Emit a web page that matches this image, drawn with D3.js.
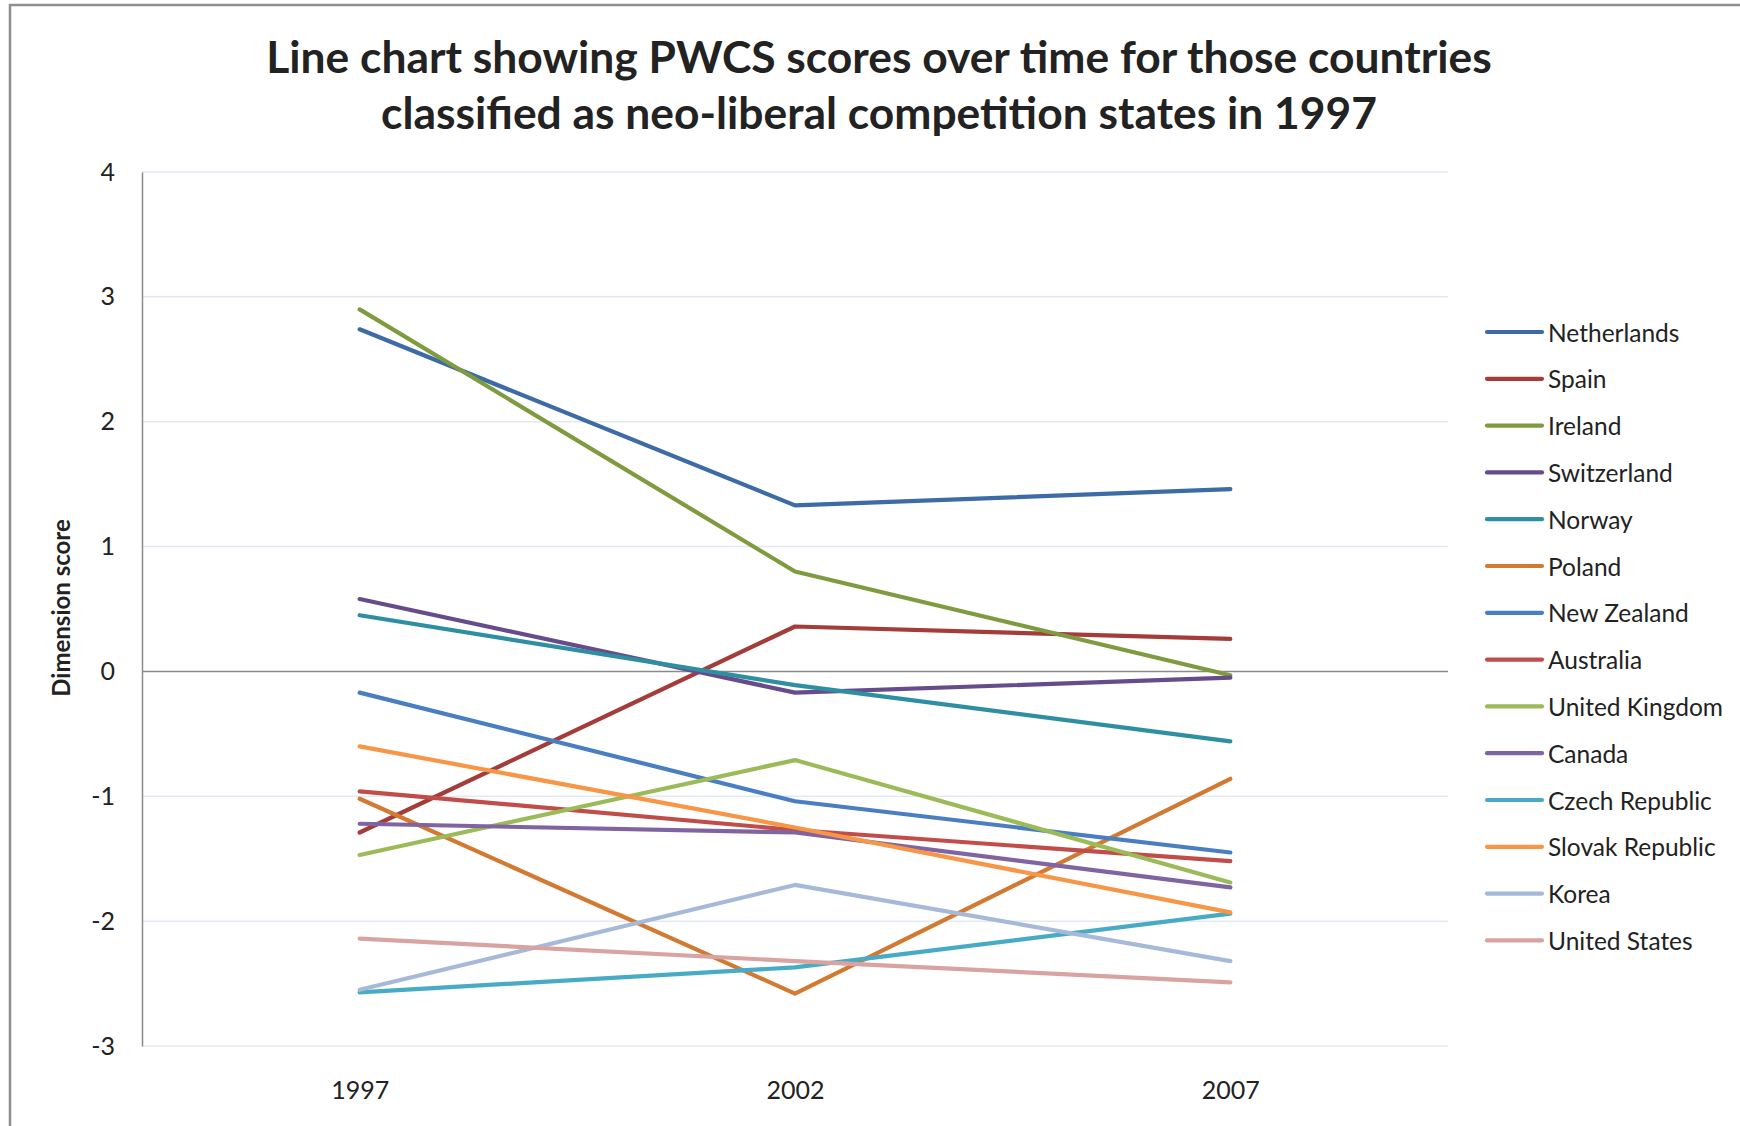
<!DOCTYPE html>
<html>
    <head>
        <meta charset="utf-8">
        <title>PWCS scores</title>
        <script src="https://d3js.org/d3.v7.min.js"></script>
        <style>
            body { margin: 0; background: #fff; }
            text { font-family: Lato, "Open Sans", sans-serif; fill: #222; }
        </style>
    </head>
    <body>
        <script>

        // Years on the x axis
        const years = ["1997", "2002", "2007"];

        // Countries, in legend order
        const countries = ["Netherlands", "Spain", "Ireland", "Switzerland", "Norway", "Poland",
            "New Zealand", "Australia", "United Kingdom", "Canada", "Czech Republic",
            "Slovak Republic", "Korea", "United States"];

        // Scores per country (1997, 2002, 2007)
        const netherlands = [2.74, 1.33, 1.46];
        const spain = [-1.29, 0.36, 0.26];
        const ireland = [2.90, 0.80, -0.03];
        const switzerland = [0.58, -0.17, -0.05];
        const norway = [0.45, -0.11, -0.56];
        const poland = [-1.02, -2.58, -0.86];
        const newZealand = [-0.17, -1.04, -1.45];
        const australia = [-0.96, -1.27, -1.52];
        const unitedKingdom = [-1.47, -0.71, -1.69];
        const canada = [-1.22, -1.29, -1.73];
        const czechRepublic = [-2.57, -2.37, -1.94];
        const slovakRepublic = [-0.60, -1.25, -1.93];
        const korea = [-2.55, -1.71, -2.32];
        const unitedStates = [-2.14, -2.32, -2.49];

        const values = [netherlands, spain, ireland, switzerland, norway, poland, newZealand,
            australia, unitedKingdom, canada, czechRepublic, slovakRepublic, korea, unitedStates];

        const colors = ["#3d6ba5", "#a43c39", "#7f9b3f", "#664c8a", "#2f8fa2", "#d27a31",
            "#4a7ec3", "#c14d4a", "#9bbb59", "#8064a2", "#48abc6", "#f79646", "#a7b9d8", "#d9a3a2"];

        const yTicks = [-3, -2, -1, 0, 1, 2, 3, 4];

        const svgWidth = 1740;
        const svgHeight = 1126;
        const plot = { left: 142, right: 1448, top: 172, bottom: 1046 };

        const svg = d3.select("body").append("svg")
            .attr("width", svgWidth)
            .attr("height", svgHeight);

        // outer frame
        svg.append("rect")
            .attr("x", 10).attr("y", 5)
            .attr("width", svgWidth + 20).attr("height", svgHeight + 20)
            .attr("fill", "none")
            .attr("stroke", "#909090")
            .attr("stroke-width", 2.5);

        const x = d3.scalePoint()
            .domain(years)
            .range([plot.left, plot.right])
            .padding(0.5);

        const y = d3.scaleLinear()
            .domain([-3, 4])
            .range([plot.bottom, plot.top]);

        // gridlines
        svg.append("g")
            .selectAll("line")
            .data(yTicks)
            .join("line")
            .attr("x1", plot.left).attr("x2", plot.right)
            .attr("y1", d => y(d)).attr("y2", d => y(d))
            .attr("stroke", d => d === 0 ? "#8a8a8a" : "#e3e9f3")
            .attr("stroke-width", 1.5);

        // y axis
        const yAxis = d3.axisLeft(y)
            .tickValues(yTicks)
            .tickFormat(d => String(d))
            .tickSize(0)
            .tickPadding(27);
        const gy = svg.append("g")
            .attr("transform", `translate(${plot.left},0)`)
            .call(yAxis);
        gy.select(".domain").attr("stroke", "#8a8a8a").attr("stroke-width", 1.5);
        gy.selectAll("text").attr("font-size", 25).attr("fill", "#222")
            .style("font-family", "Lato, sans-serif");

        // x axis labels
        const xAxis = d3.axisBottom(x).tickSize(0).tickPadding(35);
        const gx = svg.append("g")
            .attr("transform", `translate(0,${plot.bottom})`)
            .call(xAxis);
        gx.select(".domain").remove();
        gx.selectAll("text").attr("font-size", 25).attr("fill", "#222")
            .style("font-family", "Lato, sans-serif");

        // lines
        const line = d3.line()
            .x((d, i) => x(years[i]))
            .y(d => y(d));

        svg.append("g")
            .selectAll("path")
            .data(values)
            .join("path")
            .attr("d", line)
            .attr("fill", "none")
            .attr("stroke", (d, i) => colors[i])
            .attr("stroke-width", 4.2)
            .attr("stroke-linecap", "round")
            .attr("stroke-linejoin", "round");

        // title
        const titleLines = ["Line chart showing PWCS scores over time for those countries",
            "classified as neo-liberal competition states in 1997"];
        const title = svg.append("g");
        const t1 = title.append("text")
            .attr("x", 879).attr("y", 55)
            .attr("text-anchor", "middle")
            .attr("dominant-baseline", "central")
            .attr("font-weight", "bold")
            .attr("font-size", 40)
            .text(titleLines[0]);
        const fitSize = 40 * 1226 / t1.node().getComputedTextLength();
        t1.attr("font-size", fitSize);
        title.append("text")
            .attr("x", 879).attr("y", 111)
            .attr("text-anchor", "middle")
            .attr("dominant-baseline", "central")
            .attr("font-weight", "bold")
            .attr("font-size", fitSize)
            .text(titleLines[1]);

        // y axis title
        svg.append("text")
            .attr("transform", "translate(60,608) rotate(-90)")
            .attr("text-anchor", "middle")
            .attr("dominant-baseline", "central")
            .attr("font-weight", "bold")
            .attr("font-size", 24)
            .text("Dimension score");

        // legend
        const legend = svg.append("g")
            .attr("transform", "translate(1487,332)");
        const item = legend.selectAll("g")
            .data(countries)
            .join("g")
            .attr("transform", (d, i) => `translate(0,${i * 46.8})`);
        item.append("line")
            .attr("x1", 0).attr("x2", 55)
            .attr("stroke", (d, i) => colors[i])
            .attr("stroke-width", 4.2)
            .attr("stroke-linecap", "round");
        item.append("text")
            .attr("x", 61)
            .attr("dominant-baseline", "central")
            .attr("font-size", 24.5)
            .text(d => d);

        </script>
    </body>
</html>
